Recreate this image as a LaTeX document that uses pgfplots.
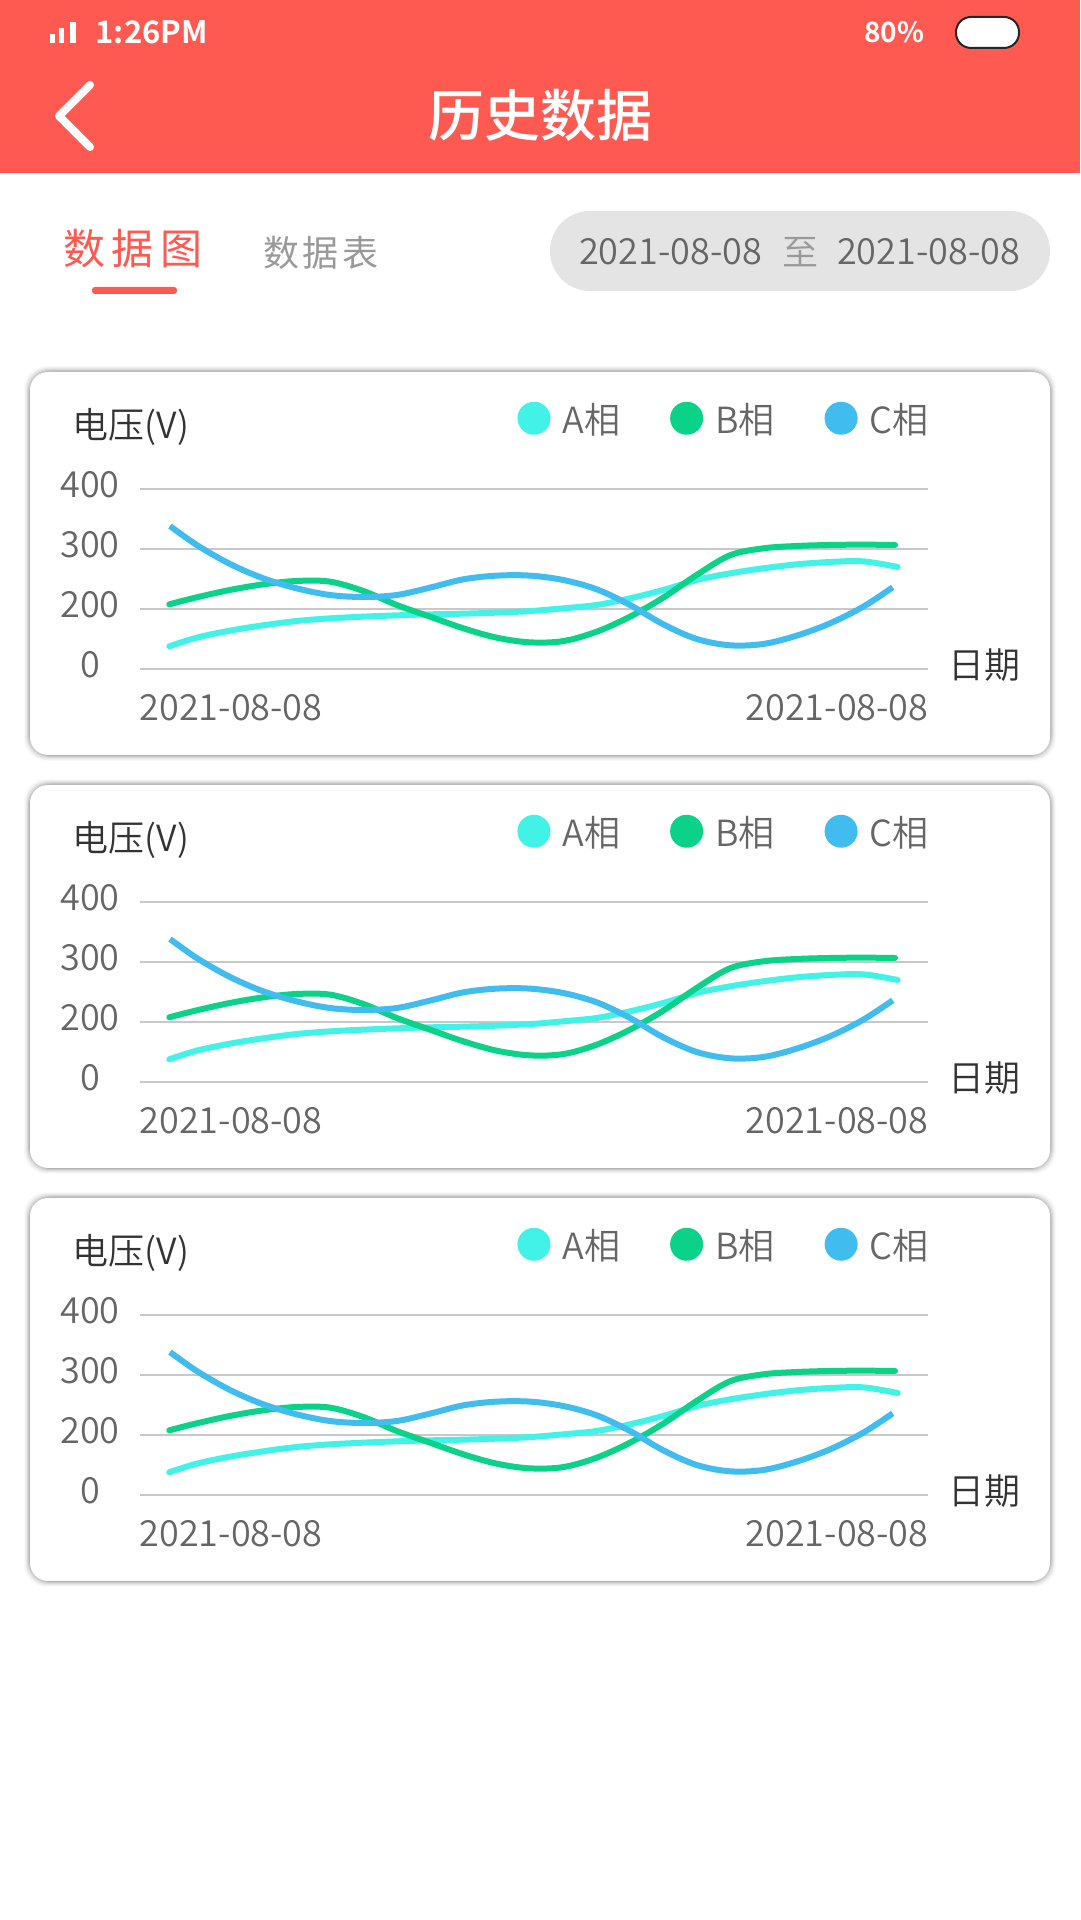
\documentclass[border=0pt]{standalone}
\usepackage{fontspec}
\usepackage{pgfplots}
\usepackage{pgfplotstable}
\pgfplotsset{compat=1.18}
\setmainfont{Noto Sans CJK SC DemiLight}
\newfontfamily\reg{Noto Sans CJK SC}
\newfontfamily\med{Noto Sans CJK SC Medium}
\newfontfamily\bld{Noto Sans CJK SC Bold}
\definecolor{hdr}{HTML}{FF5A52}
\definecolor{cA}{HTML}{42F2E6}
\definecolor{cB}{HTML}{0AD288}
\definecolor{cC}{HTML}{40BDEE}
\definecolor{gridc}{HTML}{C8C8C8}
\definecolor{tick}{HTML}{666666}
\definecolor{dark}{HTML}{333333}
\pgfplotstableread{
x y
169.3 37.8
196.7 52.2
230 63.9
263.3 72.8
296.7 80
330 84.4
363.3 87.2
396.7 89.4
430 91.1
463.3 92.2
496.7 93.9
530 96.5
563.3 101.1
596.7 106.7
630 117.8
663.3 131.7
696.7 148.3
730 159.4
763.3 167.8
796.7 174.4
830 178.3
863.3 179.4
897.7 170
}\dataA
\pgfplotstableread{
x y
169.3 107.8
196.7 119.4
230 131.7
263.3 141.1
296.7 146.7
330 145.6
363.3 130
396.7 106.7
430 87.2
463.3 67.8
496.7 52.2
530 44.4
563.3 46.5
596.7 62.2
630 87.2
663.3 118.9
696.7 156.7
730 189.5
763.3 201.1
796.7 205
830 206.7
863.3 207.2
895 206.7
}\dataB
\pgfplotstableread{
x y
170 238.3
196.7 206.7
230 175
263.3 151.1
296.7 134.4
330 123.3
363.3 120
396.7 123.3
430 135.6
463.3 149.4
496.7 155.6
530 155.6
563.3 148.3
596.7 132.8
630 106.7
663.3 74.4
696.7 50
730 39.5
763.3 41.7
796.7 55.6
830 76.1
863.3 103.9
892.7 136.1
}\dataC
% #1 = pixel offset of the card from the first one
\newcommand\card[1]{%
  \pgfmathsetmacro\base{1251-#1}%
  \pgfmathsetmacro\ct{1920-372-#1}%
  \pgfmathsetmacro\cb{1920-755-#1}%
  \foreach \g/\o in {6/0.02,5/0.03,4/0.04,3/0.06,2/0.08,1/0.10}{
    \fill[black,opacity=\o,rounded corners=22pt] (30pt-\g pt,\cb pt-\g pt) rectangle (1050pt+\g pt,\ct pt+\g pt);
  }
  \fill[white,rounded corners=18pt] (30pt,\cb pt) rectangle (1050pt,\ct pt);
  \begin{axis}[
    at={(140pt,\base pt)},anchor=south west,
    scale only axis,width=788pt,height=180pt,
    xmin=140,xmax=928,ymin=0,ymax=300,
    clip=false,
    axis line style={draw=none},
    major tick length=0pt,
    ymajorgrids,
    grid style={draw=gridc,line width=2pt},
    ytick={0,100,200,300},
    yticklabels={0,200,300,400},
    xtick={231,837},
    xticklabels={2021-08-08,2021-08-08},
    /pgf/number format/assume math mode=true,
    tick label style={font=\fontsize{36}{36}\selectfont,text=tick},
    yticklabel style={anchor=center,xshift=-50pt,yshift=4.5pt},
    xticklabel style={anchor=center,yshift=-39pt},
    xlabel={日期},ylabel={电压(V)},
    every axis x label/.style={at={(axis description cs:1.0716,0.022)},anchor=center,font=\fontsize{36}{36}\selectfont,text=dark},
    every axis y label/.style={at={(axis description cs:-0.0114,1.344)},anchor=center,font=\fontsize{36}{36}\selectfont,text=dark},
    legend columns=3,
    legend style={
      draw=none,fill=none,inner sep=0pt,outer sep=0pt,
      at={(axis description cs:0.479,1.392)},anchor=west,
      font=\fontsize{36}{36}\selectfont,text=tick,
      nodes={inner sep=0pt,outer sep=0pt},
      /tikz/every odd column/.append style={column sep=12pt},
      /tikz/every even column/.append style={column sep=50pt},
    },
    legend image code/.code={\fill[##1,draw=none] (16.5pt,1pt) circle (16.5pt);},
  ]
  \addplot[cA,line width=6pt,line cap=round,smooth,tension=0.55,no markers] table[x=x,y=y]{\dataA};
  \addlegendentry{A相}
  \addplot[cB,line width=6pt,line cap=round,smooth,tension=0.55,no markers] table[x=x,y=y]{\dataB};
  \addlegendentry{B相}
  \addplot[cC,line width=6pt,line cap=butt,smooth,tension=0.55,no markers] table[x=x,y=y]{\dataC};
  \addlegendentry{C相}
  \end{axis}
}
\begin{document}
\begin{tikzpicture}[x=1pt,y=1pt]
\useasboundingbox (0,0) rectangle (1080,1920);
\fill[white] (0,0) rectangle (1080,1920);
% header
\fill[hdr] (0,1747) rectangle (1080,1920);
\fill[white] (50,1877) rectangle (55,1886);
\fill[white] (59,1877) rectangle (64,1892);
\fill[white] (70,1877) rectangle (76,1898);
\node[anchor=west,inner sep=0,text=white] at (95.5,1888) {\bld\fontsize{31}{31}\selectfont 1:26PM};
\node[anchor=west,inner sep=0,text=white] at (864,1888) {\bld\fontsize{28}{28}\selectfont 80\%};
\draw[fill=white,draw=black!85,line width=2pt,rounded corners=15pt] (956,1872) rectangle (1019,1903);
\draw[white,line width=8pt,line cap=round,line join=round] (90,1835) -- (59,1804) -- (90,1773);
\node[text=white,inner sep=0] at (540,1805) {\med\fontsize{56}{56}\selectfont 历史数据};
% tabs
\node[text=hdr,inner sep=0] at (133,1671) {\reg\fontsize{42}{42}\selectfont 数\kern7pt 据\kern7pt 图};
\node[text=black!40,inner sep=0] at (321,1667) {\reg\fontsize{36}{36}\selectfont 数\kern3.5pt 据\kern3.5pt 表};
\fill[hdr,rounded corners=3pt] (92,1626) rectangle (177,1633);
\fill[black!10.5,rounded corners=40pt] (550,1629) rectangle (1050,1709);
\node[text=tick,inner sep=0] at (670.5,1668) {\fontsize{36}{36}\selectfont 2021-08-08};
\node[text=black!40,inner sep=0] at (800.5,1668) {\fontsize{36}{36}\selectfont 至};
\node[text=tick,inner sep=0] at (928.5,1668) {\fontsize{36}{36}\selectfont 2021-08-08};
\card{0}
\card{413}
\card{826}
\end{tikzpicture}
\end{document}
